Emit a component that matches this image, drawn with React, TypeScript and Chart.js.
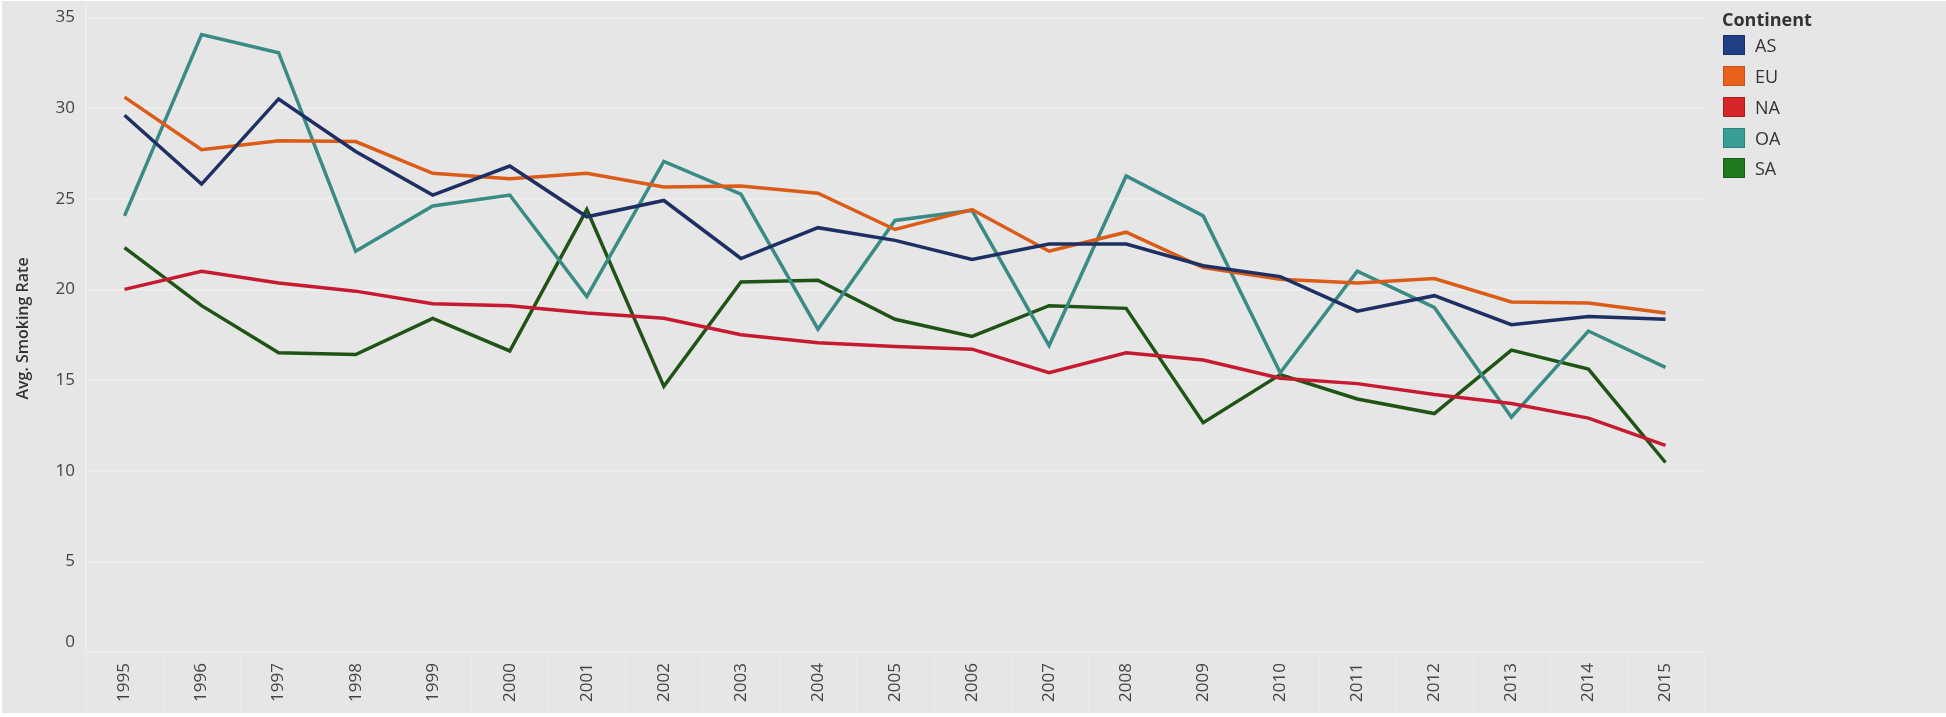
import { useEffect, useRef } from "react";
import { Chart, registerables } from "chart.js";

Chart.register(...registerables);

const years = ["1995","1996","1997","1998","1999","2000","2001","2002","2003","2004","2005","2006","2007","2008","2009","2010","2011","2012","2013","2014","2015"];

const asValues = [29.6, 25.8, 30.5, 27.6, 25.2, 26.8, 24.0, 24.9, 21.7, 23.4, 22.7, 21.65, 22.5, 22.5, 21.3, 20.7, 18.8, 19.65, 18.05, 18.5, 18.35];
const euValues = [30.6, 27.7, 28.2, 28.15, 26.4, 26.1, 26.4, 25.65, 25.7, 25.3, 23.3, 24.4, 22.1, 23.15, 21.2, 20.55, 20.35, 20.6, 19.3, 19.25, 18.7];
const naValues = [20.0, 21.0, 20.35, 19.9, 19.2, 19.1, 18.7, 18.4, 17.5, 17.05, 16.85, 16.7, 15.4, 16.5, 16.1, 15.1, 14.8, 14.2, 13.7, 12.9, 11.4];
const oaValues = [24.05, 34.05, 33.05, 22.1, 24.6, 25.2, 19.6, 27.05, 25.25, 17.8, 23.8, 24.35, 16.9, 26.25, 24.05, 15.4, 21.0, 19.0, 12.95, 17.7, 15.7];
const saValues = [22.3, 19.1, 16.5, 16.4, 18.4, 16.6, 24.4, 14.65, 20.4, 20.5, 18.35, 17.4, 19.1, 18.95, 12.65, 15.3, 13.95, 13.15, 16.65, 15.6, 10.45];

const seriesNames = ["AS", "EU", "NA", "OA", "SA"];
const seriesValues = [asValues, euValues, naValues, oaValues, saValues];
const lineColors = ["#1d2f63", "#db5c18", "#c51a31", "#3a8b86", "#1f5416"];
const legendColors = ["#1f4087", "#e8601c", "#d6262b", "#3a9e96", "#1d7a1f"];
const legendBorders = ["#17305f", "#c4521a", "#a81f22", "#2f8079", "#175f18"];

const yTickValues = [0, 5, 10, 15, 20, 25, 30, 35];
const yAxisTitle = "Avg. Smoking Rate";
const legendTitle = "Continent";

const BG = "#e6e6e6";
const GRID = "#efefef";
const TEXT = "#444444";
const FONT = "'Open Sans', 'Noto Sans', sans-serif";

export default function App() {
  const ref = useRef<HTMLCanvasElement>(null);

  useEffect(() => {
    if (!ref.current) return;
    const dividers = {
      id: "dividers",
      afterDraw(chart: any) {
        const { ctx, chartArea, scales } = chart;
        const xs = scales.x;
        ctx.save();
        ctx.strokeStyle = "#ebebeb";
        ctx.lineWidth = 1;
        for (let i = 0; i <= years.length; i++) {
          const px = Math.round(xs.getPixelForValue(i - 0.5)) + 0.5;
          ctx.beginPath();
          ctx.moveTo(px, chartArea.bottom);
          ctx.lineTo(px, chart.height);
          ctx.stroke();
        }
        ctx.restore();
      },
    };

    const chart = new Chart(ref.current, {
      type: "line",
      data: {
        labels: years,
        datasets: seriesNames.map((name, i) => ({
          label: name,
          data: seriesValues[i],
          borderColor: lineColors[i],
          backgroundColor: lineColors[i],
          borderWidth: 3.5,
          pointRadius: 0,
          pointHoverRadius: 0,
          tension: 0,
          fill: false,
        })),
      },
      options: {
        responsive: false,
        animation: false,
        events: [],
        layout: { padding: { top: 4, right: 242, bottom: 0, left: 0 } },
        plugins: {
          legend: { display: false },
          tooltip: { enabled: false },
        },
        scales: {
          x: {
            type: "category",
            offset: true,
            grid: { display: false, drawTicks: false },
            border: { display: false },
            ticks: {
              autoSkip: false,
              maxRotation: 90,
              minRotation: 90,
              padding: 11,
              color: TEXT,
              font: { family: FONT, size: 17 },
            },
            afterFit(scale: any) {
              scale.height = 61;
              scale.paddingLeft = 0;
              scale.paddingRight = 0;
            },
          },
          y: {
            min: 0,
            max: 35.68,
            afterBuildTicks(scale: any) {
              scale.ticks = yTickValues.map((v) => ({ value: v }));
            },
            grid: { color: GRID, lineWidth: 1.5, drawTicks: false },
            border: { display: true, color: GRID, width: 1.5 },
            ticks: {
              padding: 11,
              color: TEXT,
              font: { family: FONT, size: 17 },
              callback: (v: any) => (Number(v) === 0 ? ["0", ""] : String(v)),
            },
            title: {
              display: true,
              text: yAxisTitle,
              color: "#333333",
              font: { family: FONT, size: 16, weight: 600 },
              padding: { top: 12, bottom: 0 },
            },
            afterFit(scale: any) {
              scale.width = 84;
              scale.paddingTop = 0;
              scale.paddingBottom = 0;
            },
          },
        },
      },
      plugins: [dividers],
    } as any);
    return () => chart.destroy();
  }, []);

  const itemCenters = [44, 75, 106, 137, 167];

  return (
    <div style={{ position: "fixed", left: 0, top: 0, width: 1946, height: 717, background: "#ffffff" }}>
      <div style={{ position: "absolute", left: 2, top: 1, width: 1944, height: 712, background: BG, overflow: "hidden" }}>
        <canvas ref={ref} width={1944} height={712} style={{ position: "absolute", left: 0, top: 0, width: 1944, height: 712 }} />
        <div
          style={{
            position: "absolute",
            left: 1720,
            top: 6,
            height: 24,
            lineHeight: "24px",
            fontFamily: FONT,
            fontSize: 18,
            fontWeight: 700,
            color: "#333333",
          }}
        >
          {legendTitle}
        </div>
        {seriesNames.map((name, i) => (
          <div key={name}>
            <div
              style={{
                position: "absolute",
                left: 1721,
                top: itemCenters[i] - 10,
                width: 22,
                height: 20,
                boxSizing: "border-box",
                background: legendColors[i],
                border: `1px solid ${legendBorders[i]}`,
              }}
            />
            <div
              style={{
                position: "absolute",
                left: 1753,
                top: itemCenters[i] - 12,
                height: 24,
                lineHeight: "24px",
                fontFamily: FONT,
                fontSize: 18,
                color: "#333333",
              }}
            >
              {name}
            </div>
          </div>
        ))}
      </div>
    </div>
  );
}
